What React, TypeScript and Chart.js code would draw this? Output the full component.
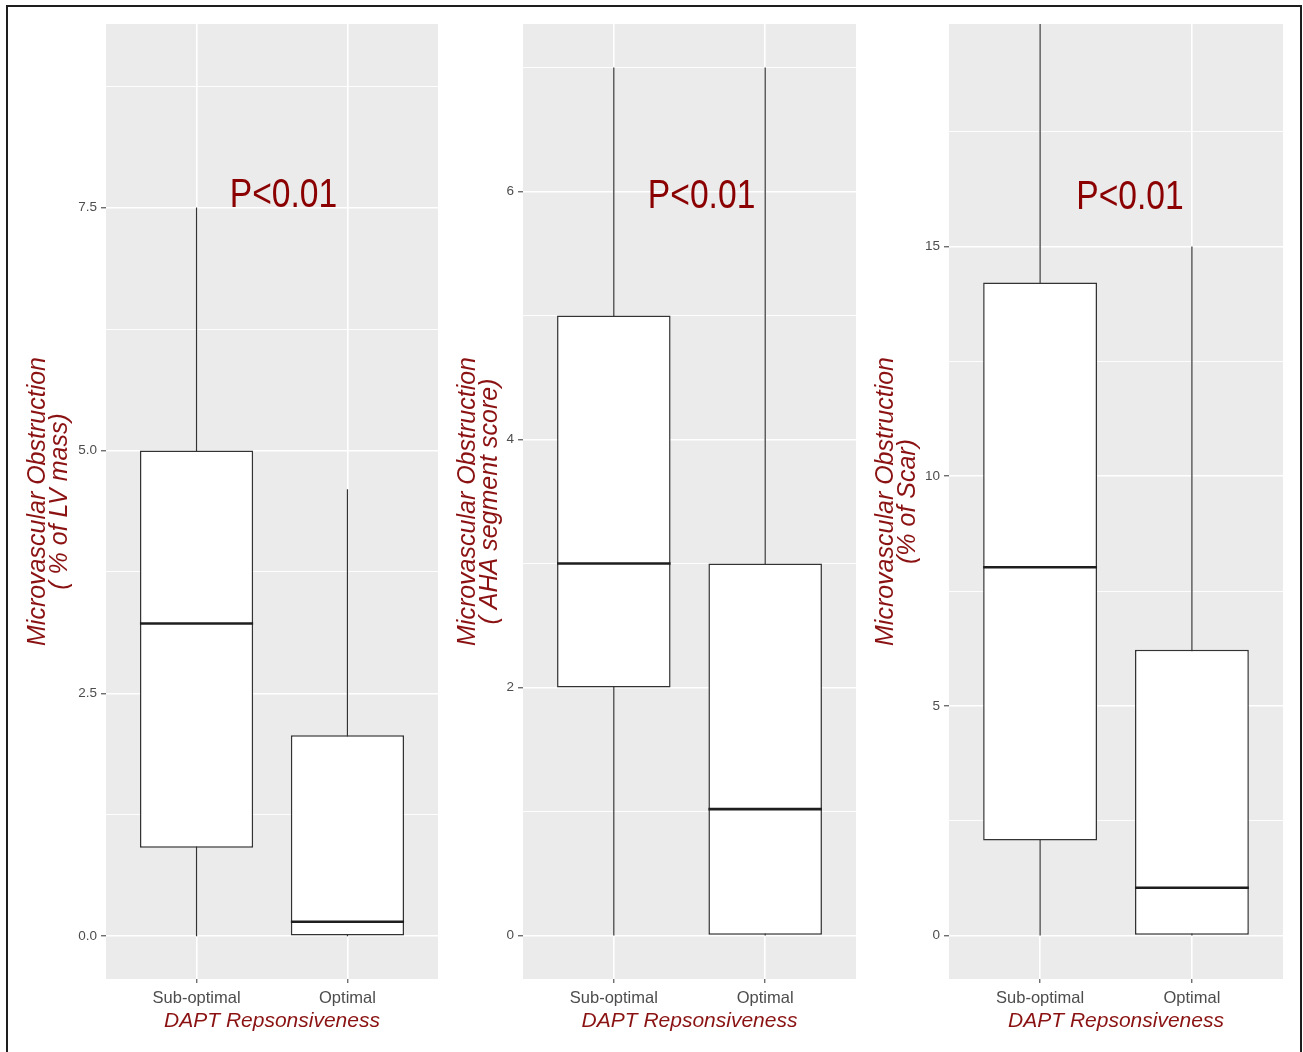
import React, { useEffect, useRef } from "react";
import { Chart, registerables } from "chart.js";

Chart.register(...registerables);

// ---------------- data ----------------
const categories = ["Sub-optimal", "Optimal"];
const categoryPositions = [0, 1];
const xRange = [-0.6, 1.6];
const xTitle = "DAPT Repsonsiveness";
const pValueText = "P<0.01";

// Panel 1: MVO as % of LV mass
const lvMin = [0, 0];
const lvQ1 = [0.91, 0];
const lvMedian = [3.22, 0.15];
const lvQ3 = [5.0, 2.07];
const lvMax = [7.5, 4.6];
const lvMajorTicks = [0, 2.5, 5, 7.5];
const lvTickLabels = ["0.0", "2.5", "5.0", "7.5"];
const lvMinorTicks = [1.25, 3.75, 6.25, 8.75];
const lvRange = [-0.44, 9.39];
const lvTitle = ["Microvascular Obstruction", "( % of LV mass)"];
const lvPValuePos = [0.576, 7.51];

// Panel 2: MVO as AHA segment score
const ahaMin = [0, 0];
const ahaQ1 = [2, 0];
const ahaMedian = [3, 1.02];
const ahaQ3 = [5, 3];
const ahaMax = [7, 7];
const ahaMajorTicks = [0, 2, 4, 6];
const ahaTickLabels = ["0", "2", "4", "6"];
const ahaMinorTicks = [1, 3, 5, 7];
const ahaRange = [-0.35, 7.35];
const ahaTitle = ["Microvascular Obstruction", "( AHA segment score)"];
const ahaPValuePos = [0.58, 5.87];

// Panel 3: MVO as % of scar
const scarMin = [0, 0];
const scarQ1 = [2.07, 0];
const scarMedian = [8.02, 1.04];
const scarQ3 = [14.22, 6.22];
const scarMax = [19.85, 15];
const scarMajorTicks = [0, 5, 10, 15];
const scarTickLabels = ["0", "5", "10", "15"];
const scarMinorTicks = [2.5, 7.5, 12.5, 17.5];
const scarRange = [-0.945, 19.845];
const scarTitle = ["Microvascular Obstruction", "(% of Scar)"];
const scarPValuePos = [0.592, 15.82];

// ---------------- layout / style ----------------
const PAGE_W = 1303;
const PAGE_H = 1052;
const Y_AXIS_W = 100;
const X_AXIS_H = 73;
const PAD_TOP = 24;

const panels = [
  {
    left: 106, width: 332, titleOffsets: [-68, -46],
    min: lvMin, q1: lvQ1, median: lvMedian, q3: lvQ3, max: lvMax,
    major: lvMajorTicks, labels: lvTickLabels, minor: lvMinorTicks, range: lvRange,
    title: lvTitle, pPos: lvPValuePos,
  },
  {
    left: 523, width: 333, titleOffsets: [-55, -33],
    min: ahaMin, q1: ahaQ1, median: ahaMedian, q3: ahaQ3, max: ahaMax,
    major: ahaMajorTicks, labels: ahaTickLabels, minor: ahaMinorTicks, range: ahaRange,
    title: ahaTitle, pPos: ahaPValuePos,
  },
  {
    left: 949, width: 334, titleOffsets: [-63, -41],
    min: scarMin, q1: scarQ1, median: scarMedian, q3: scarQ3, max: scarMax,
    major: scarMajorTicks, labels: scarTickLabels, minor: scarMinorTicks, range: scarRange,
    title: scarTitle, pPos: scarPValuePos,
  },
];

const PANEL_BG = "#EBEBEB";
const LINE_COLOR = "#333333";
const TICK_TEXT = "#4D4D4D";
const RED = "#8B1212";
const P_RED = "#8B0000";
const SANS = '"Liberation Sans", Arial, Helvetica, sans-serif';
const NARROW = '"Liberation Sans Narrow", "Arial Narrow", "Liberation Sans", Arial, sans-serif';

type Panel = (typeof panels)[number];

function makePlugin(p: Panel) {
  return {
    id: "boxplotPanel",
    beforeDraw(chart: any) {
      const { ctx, chartArea: a } = chart;
      ctx.save();
      ctx.fillStyle = PANEL_BG;
      ctx.fillRect(a.left, a.top, a.right - a.left, a.bottom - a.top);
      ctx.restore();
    },
    beforeDatasetsDraw(chart: any) {
      const { ctx, chartArea: a, scales } = chart;
      ctx.save();
      ctx.beginPath();
      ctx.rect(a.left, a.top, a.right - a.left, a.bottom - a.top);
      ctx.clip();
      ctx.strokeStyle = LINE_COLOR;
      ctx.lineWidth = 1.2;
      categoryPositions.forEach((cx, i) => {
        const px = scales.x.getPixelForValue(cx);
        ctx.beginPath();
        ctx.moveTo(px, scales.y.getPixelForValue(p.min[i]));
        ctx.lineTo(px, scales.y.getPixelForValue(p.max[i]));
        ctx.stroke();
      });
      ctx.restore();
    },
    afterDatasetsDraw(chart: any) {
      const { ctx, scales } = chart;
      const meta = chart.getDatasetMeta(0);
      ctx.save();
      ctx.strokeStyle = "#1E1E1E";
      ctx.lineWidth = 2.6;
      meta.data.forEach((el: any, i: number) => {
        const py = scales.y.getPixelForValue(p.median[i]);
        ctx.beginPath();
        ctx.moveTo(el.x - el.width / 2, py);
        ctx.lineTo(el.x + el.width / 2, py);
        ctx.stroke();
      });
      ctx.restore();
    },
    afterDraw(chart: any) {
      const { ctx, chartArea: a, scales } = chart;
      ctx.save();
      // P-value annotation
      const px = scales.x.getPixelForValue(p.pPos[0]);
      const py = scales.y.getPixelForValue(p.pPos[1]);
      ctx.fillStyle = P_RED;
      ctx.font = `41px ${SANS}`;
      ctx.textAlign = "center";
      ctx.textBaseline = "alphabetic";
      ctx.save();
      ctx.translate(px, py);
      ctx.scale(0.82, 1);
      ctx.fillText(pValueText, 0, 0);
      ctx.restore();

      // x title
      ctx.fillStyle = RED;
      ctx.font = `italic 21px ${SANS}`;
      ctx.fillText(xTitle, (a.left + a.right) / 2, 1027);

      // y title (two lines, rotated)
      const cy = (a.top + a.bottom) / 2;
      ctx.font = `italic 25px ${SANS}`;
      ctx.textBaseline = "middle";
      p.title.forEach((line, k) => {
        ctx.save();
        ctx.translate(a.left + p.titleOffsets[k], cy);
        ctx.rotate(-Math.PI / 2);
        ctx.fillText(line, 0, 0);
        ctx.restore();
      });
      ctx.restore();
    },
  };
}

function PanelChart({ p }: { p: Panel }) {
  const ref = useRef<HTMLCanvasElement | null>(null);
  useEffect(() => {
    if (!ref.current) return;
    const isMajorY = (v: number) => p.major.some((m) => Math.abs(m - v) < 1e-9);
    const chart = new Chart(ref.current, {
      type: "bar",
      data: {
        datasets: [
          {
            data: categoryPositions.map((x, i) => ({ x, y: [p.q1[i], p.q3[i]] })) as any,
            backgroundColor: "#FFFFFF",
            borderColor: LINE_COLOR,
            borderWidth: 1.5,
            borderSkipped: false,
            barPercentage: 0.75,
            categoryPercentage: 1,
          },
        ],
      },
      options: {
        responsive: false,
        animation: false,
        events: [],
        layout: { padding: { top: PAD_TOP, left: 0, right: 0, bottom: 0 }, autoPadding: false } as any,
        plugins: { legend: { display: false }, tooltip: { enabled: false } },
        scales: {
          x: {
            type: "linear",
            min: xRange[0],
            max: xRange[1],
            offset: false,
            border: { display: false },
            grid: {
              offset: false,
              color: "#FFFFFF",
              lineWidth: 1.6,
              tickColor: LINE_COLOR,
              tickLength: 4,
              tickWidth: 1,
            } as any,
            ticks: {
              autoSkip: false,
              maxRotation: 0,
              padding: 6,
              color: TICK_TEXT,
              font: { family: SANS, size: 16.5 },
              callback: (v: any) => {
                const idx = categoryPositions.indexOf(Number(v));
                return idx >= 0 ? categories[idx] : "";
              },
            },
            afterBuildTicks: (s: any) => {
              s.ticks = categoryPositions.map((v) => ({ value: v }));
            },
            afterFit: (s: any) => {
              s.height = X_AXIS_H;
            },
          },
          y: {
            type: "linear",
            min: p.range[0],
            max: p.range[1],
            border: { display: false },
            grid: {
              color: "#FFFFFF",
              lineWidth: (c: any) => (c.tick && isMajorY(c.tick.value) ? 1.6 : 0.9),
              tickColor: (c: any) => (c.tick && isMajorY(c.tick.value) ? LINE_COLOR : "rgba(0,0,0,0)"),
              tickLength: 5,
              tickWidth: 1,
            } as any,
            ticks: {
              autoSkip: false,
              padding: 4,
              color: TICK_TEXT,
              font: { family: NARROW, size: 13.5 },
              callback: (v: any) => {
                const idx = p.major.findIndex((m) => Math.abs(m - Number(v)) < 1e-9);
                return idx >= 0 ? p.labels[idx] : "";
              },
            },
            afterBuildTicks: (s: any) => {
              s.ticks = [...p.major, ...p.minor].sort((a, b) => a - b).map((v) => ({ value: v }));
            },
            afterFit: (s: any) => {
              s.width = Y_AXIS_W;
            },
          },
        },
      },
      plugins: [makePlugin(p)],
    });
    return () => chart.destroy();
  }, [p]);
  const w = Y_AXIS_W + p.width;
  return (
    <canvas
      ref={ref}
      width={w}
      height={PAGE_H}
      style={{ position: "absolute", left: p.left - Y_AXIS_W, top: 0, width: w, height: PAGE_H }}
    />
  );
}

export default function App() {
  return (
    <div
      style={{
        position: "absolute",
        left: 0,
        top: 0,
        width: PAGE_W,
        height: PAGE_H,
        overflow: "hidden",
        background: "#FFFFFF",
      }}
    >
      <div
        style={{
          position: "absolute",
          left: 6,
          top: 5,
          width: 1296,
          height: 1100,
          boxSizing: "border-box",
          border: "2px solid #1E1E1E",
        }}
      />
      {panels.map((p, i) => (
        <PanelChart key={i} p={p} />
      ))}
    </div>
  );
}
